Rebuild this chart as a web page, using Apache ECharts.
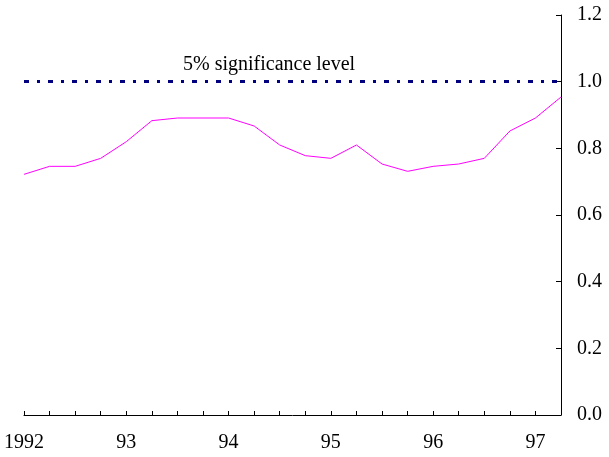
<!DOCTYPE html>
<html lang="en">
<head>
    <meta charset="UTF-8">
    <title>Significance chart</title>
    <style>
        html, body { margin: 0; padding: 0; background: #fff; }
        #main { width: 609px; height: 457px; }
    </style>
</head>
<body>
    <div id="main"></div>
    <script src="https://cdn.jsdelivr.net/npm/echarts@6/dist/echarts.min.js"></script>
    <script>
    // quarterly, 1992 Q1 .. 1997 Q2
    var quarters = ['92Q1','92Q2','92Q3','92Q4','93Q1','93Q2','93Q3','93Q4',
                    '94Q1','94Q2','94Q3','94Q4','95Q1','95Q2','95Q3','95Q4',
                    '96Q1','96Q2','96Q3','96Q4','97Q1','97Q2'];
    var yearLabels = {0: '1992', 4: '93', 8: '94', 12: '95', 16: '96', 20: '97'};
    var values = [0.722, 0.746, 0.746, 0.770, 0.820, 0.883, 0.891, 0.891,
                  0.891, 0.867, 0.810, 0.778, 0.770, 0.810, 0.753, 0.731,
                  0.746, 0.753, 0.770, 0.852, 0.891, 0.954];
    var sigLevel = 1.0;
    var sigText = '5% significance level';

    var font = '"Liberation Serif", "Times New Roman", serif';
    var myChart = echarts.init(document.getElementById('main'));
    var option = {
        animation: false,
        grid: { left: 24, right: 48, top: 15, bottom: 42, containLabel: false, outerBoundsMode: 'none' },
        xAxis: {
            type: 'category',
            data: quarters,
            boundaryGap: false,
            axisLine: { lineStyle: { color: '#000', width: 1 } },
            axisTick: { inside: true, length: 4, lineStyle: { color: '#000' } },
            axisLabel: {
                interval: 0,
                margin: 18,
                color: '#000',
                fontFamily: font,
                fontSize: 20,
                formatter: function (v, i) { return yearLabels[i] || ''; }
            },
            splitLine: { show: false }
        },
        yAxis: {
            type: 'value',
            position: 'right',
            min: 0,
            max: 1.2,
            interval: 0.2,
            axisLine: { show: true, lineStyle: { color: '#000', width: 1 } },
            axisTick: { show: true, inside: true, length: 5, lineStyle: { color: '#000' } },
            axisLabel: {
                margin: 16,
                color: '#000',
                fontFamily: font,
                fontSize: 20,
                formatter: function (v) { return v.toFixed(1); }
            },
            splitLine: { show: false }
        },
        graphic: [{
            type: 'text',
            left: 183,
            top: 55,
            style: { text: sigText, fill: '#000', font: '20px ' + font }
        }],
        series: [{
            type: 'line',
            data: values,
            showSymbol: false,
            lineStyle: { color: '#ff00ff', width: 1 },
            markLine: {
                silent: true,
                symbol: 'none',
                label: { show: false },
                lineStyle: { color: '#000080', width: 3, type: [5, 8, 3, 8] },
                data: [{ yAxis: sigLevel }]
            }
        }]
    };
    myChart.setOption(option);
    </script>
</body>
</html>
